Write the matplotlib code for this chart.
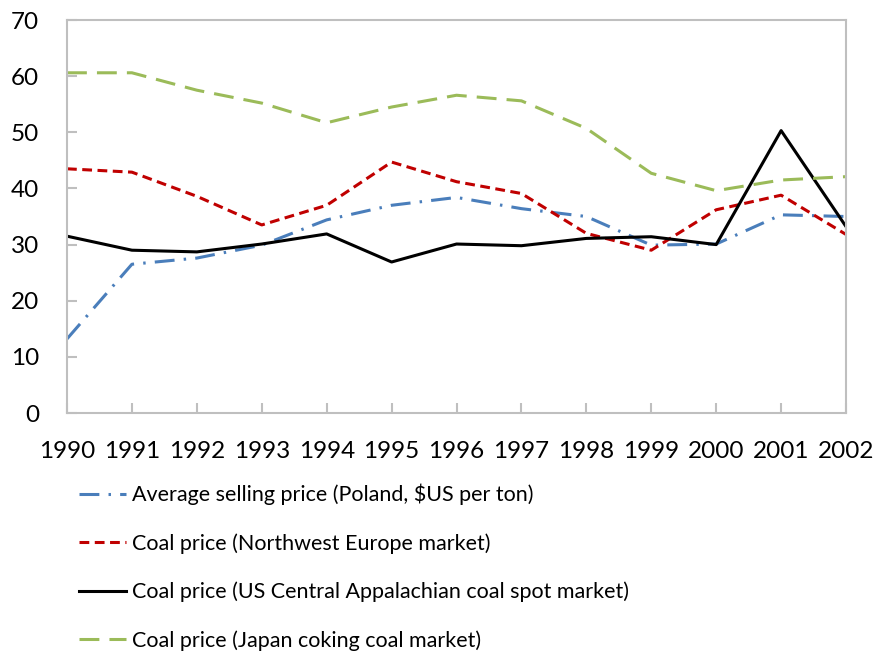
import matplotlib.pyplot as plt
import numpy as np

plt.rcParams['font.family'] = ['Lato', 'DejaVu Sans']

years = [1990, 1991, 1992, 1993, 1994, 1995, 1996, 1997, 1998, 1999, 2000, 2001, 2002]
poland = [13.2, 26.5, 27.6, 29.9, 34.4, 37.0, 38.4, 36.4, 35.0, 29.9, 30.1, 35.3, 35.0]
nw_europe = [43.5, 42.9, 38.6, 33.5, 37.0, 44.7, 41.2, 39.1, 32.0, 29.0, 36.2, 38.8, 31.8]
us_app = [31.5, 29.0, 28.7, 30.1, 31.9, 26.9, 30.1, 29.8, 31.1, 31.4, 30.0, 50.3, 33.2]
japan = [60.6, 60.6, 57.5, 55.2, 51.7, 54.5, 56.6, 55.6, 50.7, 42.7, 39.6, 41.5, 42.1]

labels = ['Average selling price (Poland, $US per ton)',
          'Coal price (Northwest Europe market)',
          'Coal price (US Central Appalachian coal spot market)',
          'Coal price (Japan coking coal market)']

fig = plt.figure(figsize=(8.78, 6.58), dpi=100)
ax = fig.add_axes([0.0763, 0.3723, 0.8873, 0.5973])

x = np.arange(len(years))
lw = 2.2
ax.plot(x, poland, color='#4A7EBB', lw=lw, dashes=(6.5, 3, 0.8, 3), label=labels[0])
ax.plot(x, nw_europe, color='#C00000', lw=lw, dashes=(3.2, 1.8), label=labels[1])
ax.plot(x, us_app, color='black', lw=lw, label=labels[2])
ax.plot(x, japan, color='#9BBB59', lw=lw, dashes=(6.5, 3.3), label=labels[3])

ax.set_xlim(0, len(years) - 1)
ax.set_ylim(0, 70)
ax.set_yticks(range(0, 71, 10))
ax.set_xticks(x)
ax.set_xticklabels([str(y) for y in years])

for s in ax.spines.values():
    s.set_color('#BFBFBF')
    s.set_linewidth(1.5)
ax.tick_params(axis='both', colors='#BFBFBF', labelcolor='black', labelsize=17.5,
               width=1.5, length=7, direction='in')
ax.tick_params(axis='x', pad=20)
ax.tick_params(axis='y', pad=20)

leg = fig.legend(loc='upper left', bbox_to_anchor=(0.09, 0.265), frameon=False,
                 fontsize=15.5, handlelength=2.2, handletextpad=0.25, labelspacing=1.3,
                 borderaxespad=0, borderpad=0)

fig.savefig('out.png', dpi=100)
